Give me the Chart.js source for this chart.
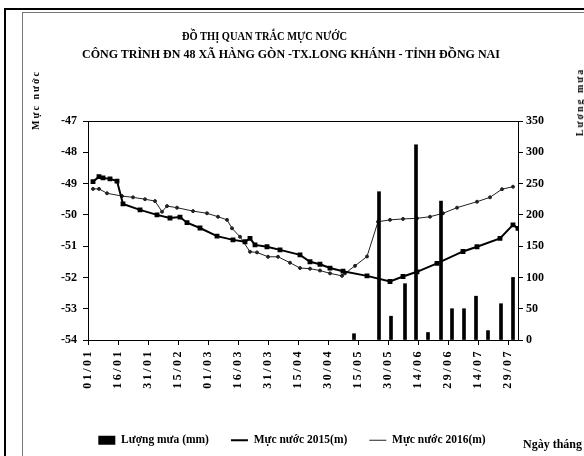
<!DOCTYPE html>
<html>
<head>
<meta charset="utf-8">
<script src="https://cdn.jsdelivr.net/npm/chart.js@4.4.1/dist/chart.umd.min.js"></script>
<style>
  html, body { margin: 0; padding: 0; background: #fff; }
  #wrap { position: relative; width: 584px; height: 456px; overflow: hidden; font-family: 'Liberation Serif', serif; font-weight: bold; color: #000; }
  #wrap canvas { position: absolute; left: 0; top: 0; }
  .txt { position: absolute; white-space: nowrap; line-height: 1; }
  .vert { transform: translate(-50%, -50%) rotate(-90deg); font-size: 10px; letter-spacing: 2px; }
  .frame { position: absolute; background: #000; }
</style>
</head>
<body>
<div id="wrap">
  <div class="frame" style="left:4px;top:8px;width:2px;height:448px;"></div>
  <div class="frame" style="left:4px;top:8px;width:580px;height:2px;"></div>
  <div class="frame" style="left:22px;top:12px;width:1px;height:444px;background:#777;"></div>
  <div class="frame" style="left:22px;top:12px;width:562px;height:1px;background:#777;"></div>
  <canvas id="waterChart" width="584" height="456"></canvas>
  <div class="txt" style="left:182px;top:30px;font-size:12px;transform:scaleX(0.87);transform-origin:left center;">ĐỒ THỊ QUAN TRẮC MỰC NƯỚC</div>
  <div class="txt" style="left:82px;top:48px;font-size:12px;">CÔNG TRÌNH ĐN 48 XÃ HÀNG GÒN -TX.LONG KHÁNH - TỈNH ĐỒNG NAI</div>
  <div class="txt vert" style="left:36px;top:100px;">Mực nước</div>
  <div class="txt vert" style="left:580px;top:102px;">Lượng mưa</div>
  <div class="txt" style="left:523px;top:438px;font-size:12px;">Ngày tháng</div>
</div>
<script>
// ngày tính từ 01/01, mỗi vạch cách 15 ngày
var tickLabels = ['01/01', '16/01', '31/01', '15/02', '01/03', '16/03', '31/03', '15/04',
                  '30/04', '15/05', '30/05', '14/06', '29/06', '14/07', '29/07'];

var rainDays = [133, 145.5, 151.5, 158.5, 164, 170, 176.5, 182, 188, 194, 200, 206.5, 212.5];
var rainMm   = [10, 237, 38, 90, 312, 12, 222, 50, 50, 70, 15, 58, 100];

var days2015  = [2.5, 5.5, 7.5, 11, 14.5, 17.5, 26, 34.5, 41, 46,
                 49.5, 56, 64.5, 72.5, 78.5, 81, 83.5, 89.5, 96, 106,
                 111, 116, 121, 127.5, 139.5, 151, 157.5, 164.5, 174.5, 187.5,
                 194.5, 206, 212.5, 215];
var level2015 = [-48.94, -48.78, -48.82, -48.85, -48.92, -49.65, -49.84, -50.0, -50.1, -50.07,
                 -50.25, -50.42, -50.68, -50.8, -50.86, -50.75, -50.96, -51.02, -51.12, -51.28,
                 -51.5, -51.58, -51.7, -51.8, -51.95, -52.13, -51.97, -51.82, -51.55, -51.17,
                 -51.02, -50.75, -50.32, -50.43];

var days2016  = [2.5, 5.5, 9.5, 17, 22.5, 28.5, 33.5, 37, 39.5, 44.5,
                 52.5, 59.5, 65, 69.5, 72, 76, 81, 84.5, 90, 95,
                 101, 106, 111, 116, 121, 127, 128.5, 133.5, 139.5, 145,
                 151, 157.5, 164.5, 171, 177.5, 184.5, 194.5, 201, 207, 212.5];
var level2016 = [-49.17, -49.17, -49.31, -49.4, -49.44, -49.5, -49.56, -49.9, -49.72, -49.77,
                 -49.88, -49.95, -50.06, -50.16, -50.43, -50.7, -51.18, -51.2, -51.34, -51.34,
                 -51.53, -51.7, -51.72, -51.78, -51.87, -51.95, -51.87, -51.63, -51.33, -50.22,
                 -50.16, -50.13, -50.11, -50.06, -49.95, -49.77, -49.58, -49.44, -49.18, -49.1];

function toPoints(xs, ys) {
  return xs.map(function(x, i) { return { x: x, y: ys[i] }; });
}

// khung vùng vẽ
var boxPlugin = {
  id: 'plotBox',
  afterDraw: function(chart) {
    var a = chart.chartArea, ctx = chart.ctx;
    ctx.save();
    ctx.strokeStyle = '#000';
    ctx.lineWidth = 1;
    ctx.strokeRect(a.left + 0.5, a.top + 0.5, a.right - a.left, a.bottom - a.top);
    ctx.restore();
  }
};

// nhãn ngày thưa chữ như bản gốc
function spacedLabels(scale) {
  if (scale._spaced) return;
  scale._spaced = true;
  var draw = scale.drawLabels;
  scale.drawLabels = function(area) {
    var c = this.ctx;
    c.letterSpacing = '2.5px';
    draw.call(this, area);
    c.letterSpacing = '0px';
  };
}

Chart.defaults.font.family = "'Liberation Serif', serif";
Chart.defaults.font.weight = 'bold';
Chart.defaults.font.size = 12;
Chart.defaults.color = '#000';

var ctx = document.getElementById('waterChart').getContext('2d');
var myChart = new Chart(ctx, {
  type: 'line',
  data: {
    datasets: [{
      type: 'bar',
      label: 'Lượng mưa (mm)',
      data: toPoints(rainDays, rainMm),
      yAxisID: 'y1',
      backgroundColor: '#000',
      barThickness: 3
    }, {
      label: 'Mực nước 2015(m)',
      data: toPoints(days2015, level2015),
      yAxisID: 'y',
      borderColor: '#000',
      backgroundColor: '#000',
      borderWidth: 2,
      pointStyle: 'rect',
      pointRadius: 2,
      tension: 0
    }, {
      label: 'Mực nước 2016(m)',
      data: toPoints(days2016, level2016),
      yAxisID: 'y',
      borderColor: '#222',
      backgroundColor: '#222',
      borderWidth: 1,
      pointStyle: 'circle',
      pointRadius: 1.5,
      tension: 0
    }]
  },
  options: {
    responsive: false,
    animation: false,
    layout: { padding: { left: 37, right: 37, top: 121, bottom: 0 } },
    plugins: {
      title: { display: false },
      tooltip: { enabled: false },
      legend: {
        position: 'bottom',
        labels: {
          usePointStyle: true,
          pointStyleWidth: 17,
          boxHeight: 9,
          padding: 22,
          font: { size: 11.5, weight: 'bold' },
          generateLabels: function(chart) {
            var items = Chart.defaults.plugins.legend.labels.generateLabels(chart);
            items.forEach(function(it, i) { it.pointStyle = i === 0 ? 'rect' : 'line'; });
            return items;
          }
        }
      }
    },
    scales: {
      x: {
        type: 'linear',
        min: 0,
        max: 215,
        offset: false,
        grid: { drawOnChartArea: false, offset: false, color: '#000', tickLength: 5 },
        border: { color: '#000' },
        ticks: {
          stepSize: 15,
          includeBounds: false,
          autoSkip: false,
          maxRotation: 90,
          minRotation: 90,
          padding: 4,
          font: { size: 12 },
          callback: function(v) { return tickLabels[Math.round(v / 15)]; }
        },
        afterFit: function(scale) { scale.height = 72.5; spacedLabels(scale); }
      },
      y: {
        position: 'left',
        min: -54,
        max: -47,
        grid: { drawOnChartArea: false, color: '#000', tickLength: 5 },
        border: { color: '#000' },
        ticks: { stepSize: 1, padding: 6, font: { size: 12 } },
        afterFit: function(scale) { scale.width = 51; }
      },
      y1: {
        position: 'right',
        min: 0,
        max: 350,
        grid: { drawOnChartArea: false, color: '#000', tickLength: 5 },
        border: { color: '#000' },
        ticks: { stepSize: 50, padding: 3, font: { size: 12 } },
        afterFit: function(scale) { scale.width = 29; }
      }
    }
  },
  plugins: [boxPlugin]
});
</script>
</body>
</html>
